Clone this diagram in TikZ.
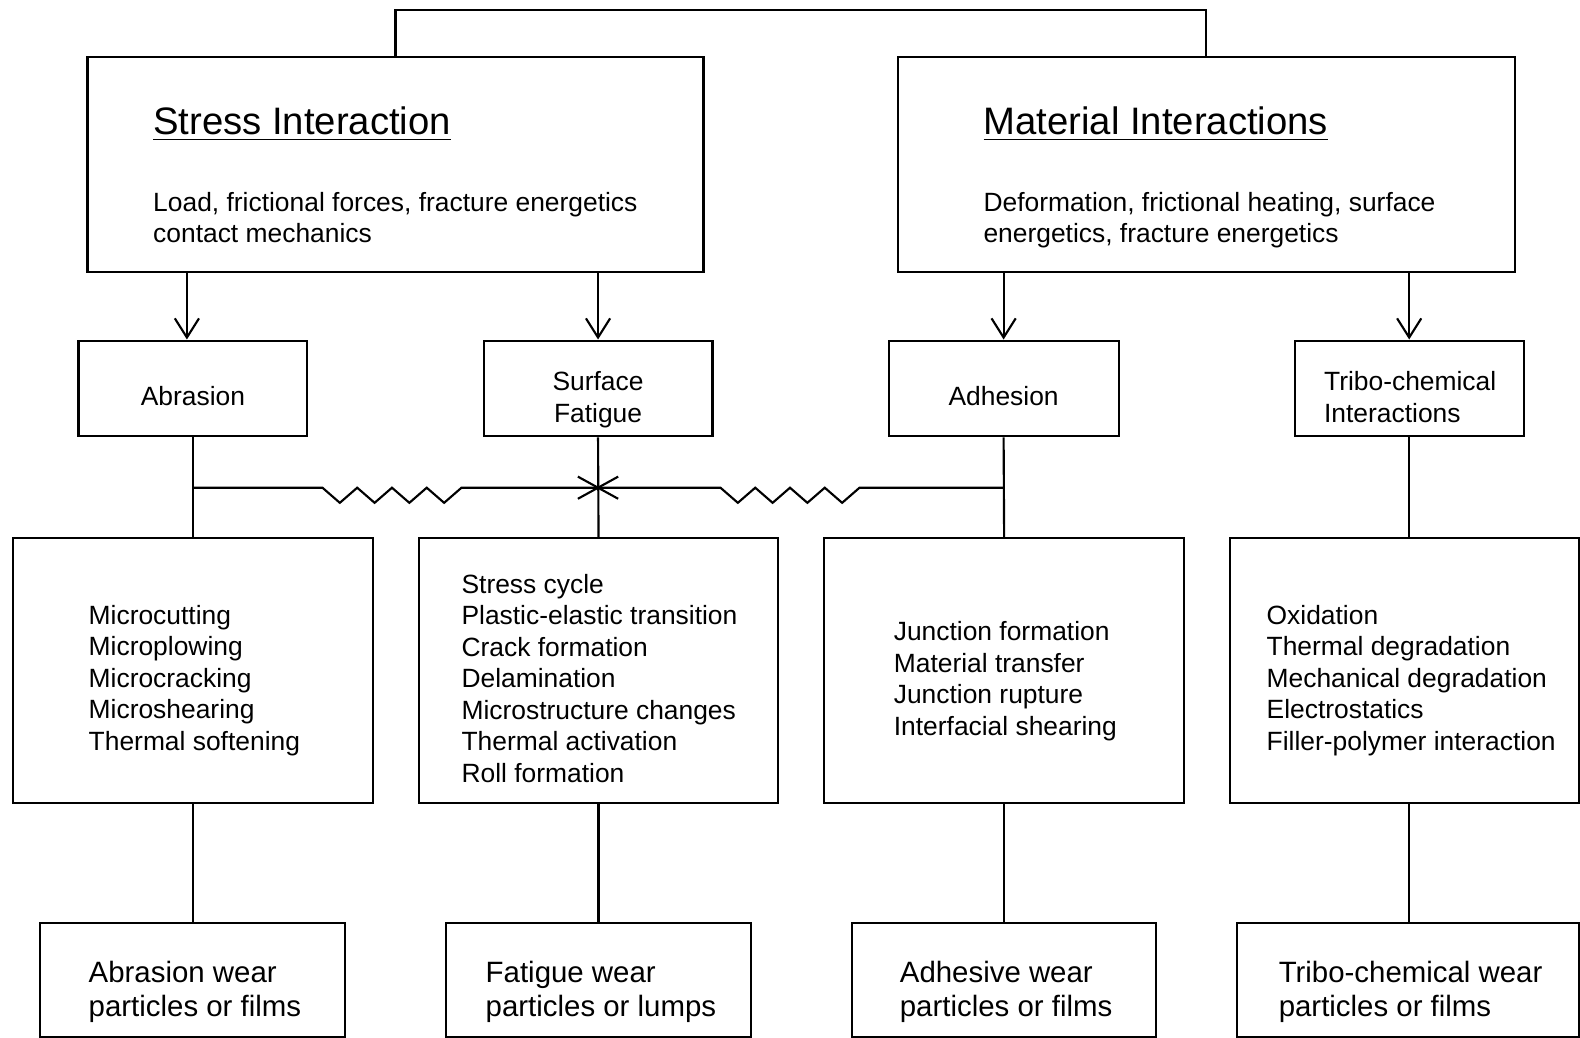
\documentclass[tikz,border=0pt]{standalone}
\usepackage{fontspec}
\setmainfont{Liberation Sans}
\usetikzlibrary{arrows.meta}
\begin{document}
\begin{tikzpicture}[x=0.01cm,y=-0.01cm, line width=0.6pt,
  box/.style={draw, rectangle, inner sep=0pt},
  txt/.style={inner sep=0pt, align=left, font=\fontsize{7.45pt}{8.9pt}\selectfont},
  big/.style={inner sep=0pt, align=left, font=\fontsize{8.3pt}{9.7pt}\selectfont},
  ttl/.style={inner sep=0pt, font=\fontsize{10.8pt}{13pt}\selectfont},
  arr/.style={-{Straight Barb[length=0.19cm,width=0.24cm]}}]
\useasboundingbox (0,0) rectangle (1568,1030);

% top boxes
\node[box, minimum width=6.11cm, minimum height=2.13cm] (sbox) at (392.5,163.5) {};
\node[box, minimum width=6.12cm, minimum height=2.13cm] (mbox) at (1197,163.5) {};
\node[ttl, anchor=north west] (stitle) at (151,104.5) {\underline{Stress Interaction}};
\node[txt, anchor=north west] (sbody) at (151,189.6) {Load, frictional forces, fracture energetics\\contact mechanics};
\node[ttl, anchor=north west] (mtitle) at (975,104.5) {\underline{Material Interactions}};
\node[txt, anchor=north west] (mbody) at (975,189.6) {Deformation, frictional heating, surface\\energetics, fracture energetics};

% row 2
\node[box, minimum width=2.27cm, minimum height=0.95cm] (abr) at (191.5,385.5) {};
\node[box, minimum width=2.27cm, minimum height=0.95cm] (sf) at (593.5,385.5) {};
\node[box, minimum width=2.28cm, minimum height=0.95cm] (adh) at (996,385.5) {};
\node[box, minimum width=2.27cm, minimum height=0.95cm] (tri) at (1398.5,385.5) {};
\node[txt, anchor=north] (abrT) at (191.5,382.6) {Abrasion};
\node[txt, align=center, anchor=north] (sfT) at (593.5,367.6) {Surface\\Fatigue};
\node[txt, anchor=north] (adhT) at (996,382.6) {Adhesion};
\node[txt, anchor=north west] (triT) at (1313,367.6) {Tribo-chemical\\Interactions};

% row 3
\node[box, minimum width=3.57cm, minimum height=2.63cm] (r3a) at (191.5,665.5) {};
\node[box, minimum width=3.56cm, minimum height=2.63cm] (r3b) at (594,665.5) {};
\node[box, minimum width=3.57cm, minimum height=2.63cm] (r3c) at (996.5,665.5) {};
\node[box, minimum width=3.46cm, minimum height=2.63cm] (r3d) at (1394,665.5) {};
\node[txt, anchor=north west] (r3aT) at (87,599.6) {Microcutting\\Microplowing\\Microcracking\\Microshearing\\Thermal softening};
\node[txt, anchor=north west] (r3bT) at (457,568.6) {Stress cycle\\Plastic-elastic transition\\Crack formation\\Delamination\\Microstructure changes\\Thermal activation\\Roll formation};
\node[txt, anchor=north west] (r3cT) at (886,615.6) {Junction formation\\Material transfer\\Junction rupture\\Interfacial shearing};
\node[txt, anchor=north west] (r3dT) at (1256,599.6) {Oxidation\\Thermal degradation\\Mechanical degradation\\Electrostatics\\Filler-polymer interaction};

% row 4
\node[box, minimum width=3.02cm, minimum height=1.13cm] (r4a) at (191,972.5) {};
\node[box, minimum width=3.02cm, minimum height=1.13cm] (r4b) at (594,972.5) {};
\node[box, minimum width=3.01cm, minimum height=1.13cm] (r4c) at (996.5,972.5) {};
\node[box, minimum width=3.39cm, minimum height=1.13cm] (r4d) at (1397.5,972.5) {};
\node[big, anchor=north west] (r4aT) at (87,952.5) {Abrasion wear\\particles or films};
\node[big, anchor=north west] (r4bT) at (481,952.5) {Fatigue wear\\particles or lumps};
\node[big, anchor=north west] (r4cT) at (892,952.5) {Adhesive wear\\particles or films};
\node[big, anchor=north west] (r4dT) at (1268,952.5) {Tribo-chemical wear\\particles or films};

% top connector
\draw (sbox.north) -- ++(0,-46) -| (mbox.north);

% arrows
\draw[arr] ([xshift=-0.06cm]abr.north |- sbox.south) -- ([xshift=-0.06cm]abr.north);
\draw[arr] (sf.north |- sbox.south) -- (sf.north);
\draw[arr] (adh.north |- mbox.south) -- (adh.north);
\draw[arr] (tri.north |- mbox.south) -- (tri.north);

% verticals
\draw (abr.south) -- (r3a.north);
\draw (sf.south) -- (r3b.north);
\draw (adh.south) -- (r3c.north);
\draw (tri.south) -- (tri.south |- r3d.north);
\draw (r3a.south) -- (r4a.north -| r3a.south);
\draw (r3b.south) -- (r4b.north);
\draw (r3c.south) -- (r4c.north);
\draw (r3d.south -| tri.south) -- (r4d.north -| tri.south);

% horizontal link with zigzags
\coordinate (j1) at (191.5,484);
\coordinate (xc) at (593.5,484);
\coordinate (j3) at (996,484);
\draw (j1) -- ++(128.5,0) \foreach \i in {1,...,4}{ -- ++(17.25,15) -- ++(17.25,-15)} -- (xc);
\draw (xc) -- ++(121.5,0) \foreach \i in {1,...,4}{ -- ++(17.25,15) -- ++(17.25,-15)} -- (j3);
\draw ([shift={(-20,-11)}]xc) -- ([shift={(20,11)}]xc);
\draw ([shift={(-20,11)}]xc) -- ([shift={(20,-11)}]xc);
\end{tikzpicture}
\end{document}
